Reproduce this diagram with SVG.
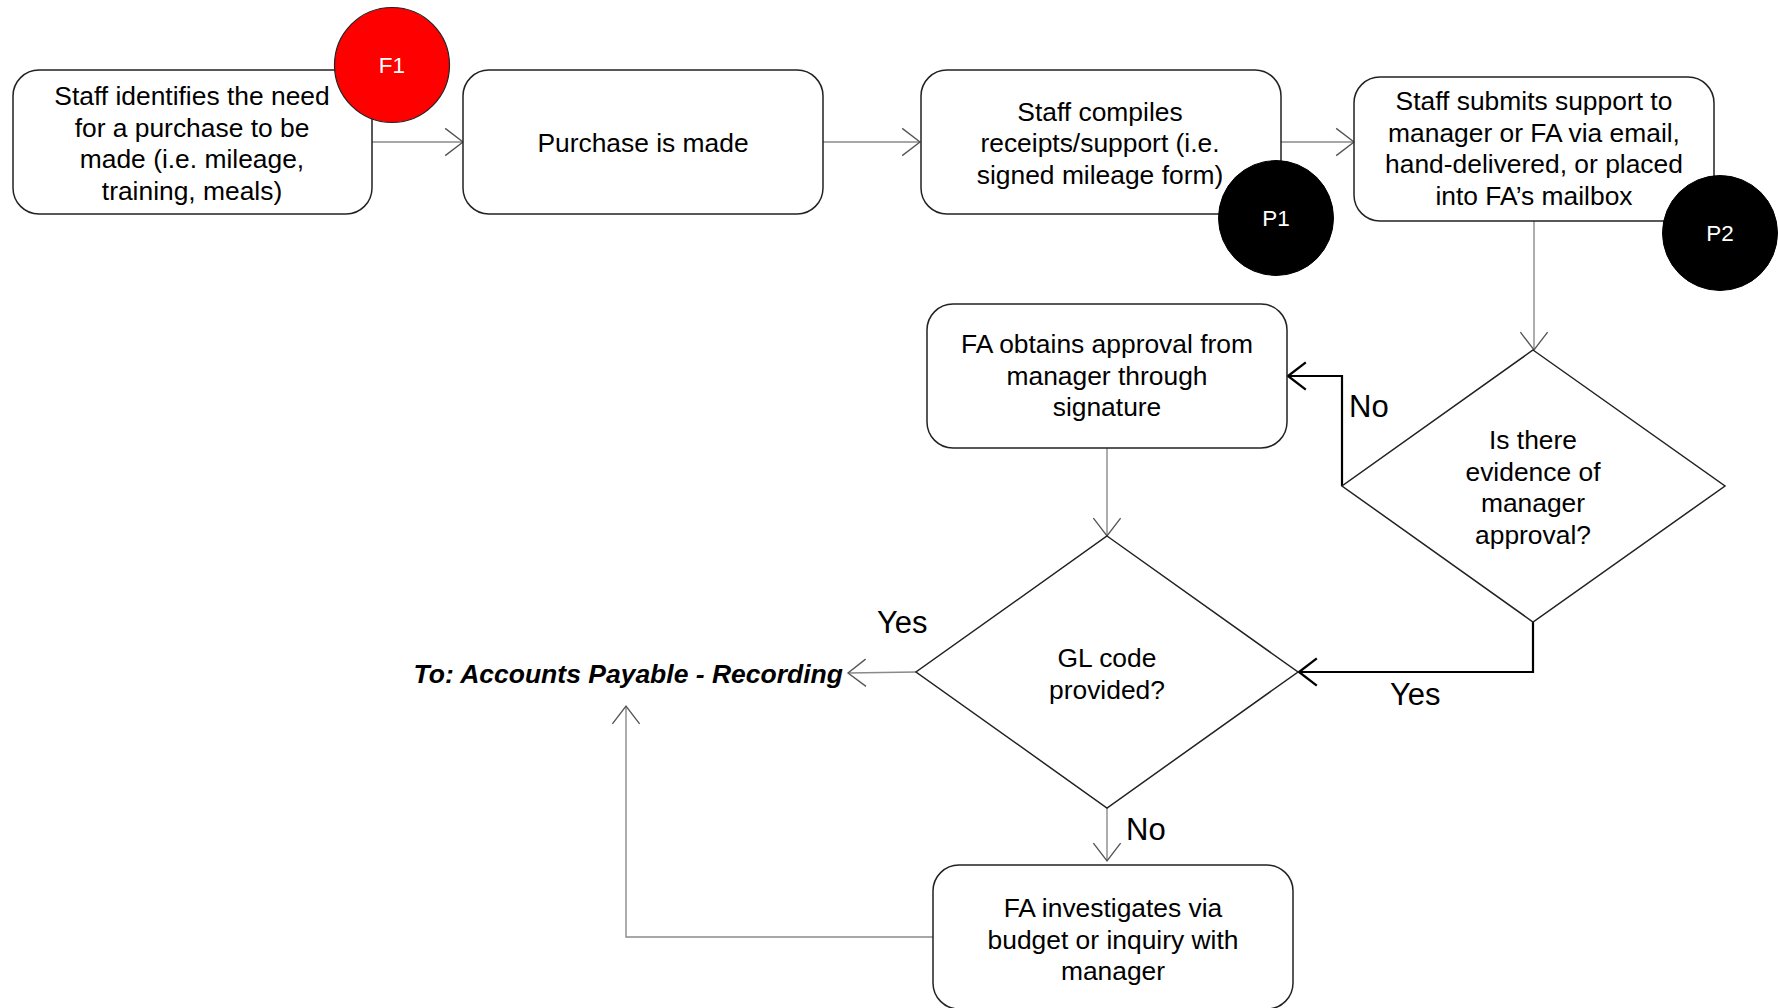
<svg xmlns="http://www.w3.org/2000/svg" width="1778" height="1008" viewBox="0 0 1778 1008">
<style>
.box{fill:#fff;stroke:#222;stroke-width:1.5}
.dia{fill:#fff;stroke:#222;stroke-width:1.5}
.t{font-family:"Liberation Sans",Arial,sans-serif;font-size:26.4px;fill:#000;text-anchor:middle}
.lbl{font-family:"Liberation Sans",Arial,sans-serif;font-size:31px;fill:#000}
.ct{font-family:"Liberation Sans",Arial,sans-serif;font-size:22.5px;fill:#fff;text-anchor:middle}
.thin{fill:none;stroke:#8a8a8a;stroke-width:1.4}
.thick{fill:none;stroke:#000;stroke-width:2.2}
</style>
<defs>
<marker id="ag" markerUnits="userSpaceOnUse" markerWidth="22" markerHeight="30" viewBox="-19 -14 21 28" refX="0" refY="0" orient="auto" overflow="visible">
<path d="M-17,-13 L0,0 L-17,13" fill="none" stroke="#555" stroke-width="1.3"/>
</marker>
<marker id="ak" markerUnits="userSpaceOnUse" markerWidth="22" markerHeight="30" viewBox="-19 -14 21 28" refX="0" refY="0" orient="auto" overflow="visible">
<path d="M-17,-13 L0,0 L-17,13" fill="none" stroke="#000" stroke-width="2.2"/>
</marker>
</defs>
<rect width="1778" height="1008" fill="#fff"/>
<g id="connectors">
<line class="thin" x1="372" y1="142" x2="463" y2="142" marker-end="url(#ag)"/>
<line class="thin" x1="823" y1="142" x2="920" y2="142" marker-end="url(#ag)"/>
<line class="thin" x1="1281" y1="142" x2="1354" y2="142" marker-end="url(#ag)"/>
<line class="thin" x1="1534" y1="221" x2="1534" y2="350" marker-end="url(#ag)"/>
<polyline class="thick" points="1342,486 1342,376 1288,376" marker-end="url(#ak)"/>
<polyline class="thick" points="1533,622 1533,672 1299,672" marker-end="url(#ak)"/>
<line class="thin" x1="1107" y1="448" x2="1107" y2="536" marker-end="url(#ag)"/>
<line class="thin" x1="916" y1="672" x2="848" y2="673" marker-end="url(#ag)"/>
<line class="thin" x1="1107" y1="808" x2="1107" y2="861" marker-end="url(#ag)"/>
<polyline class="thin" points="933,937 626,937 626,706" marker-end="url(#ag)"/>
<text class="lbl" x="1349" y="417">No</text>
<text class="lbl" x="1390" y="705">Yes</text>
<text class="lbl" x="877" y="633">Yes</text>
<text class="lbl" x="1126" y="840">No</text>
</g>
<g id="n1">
<rect class="box" x="13" y="70" width="359" height="144" rx="26"/>
<text class="t" x="192" y="105">Staff identifies the need</text>
<text class="t" x="192" y="136.5">for a purchase to be</text>
<text class="t" x="192" y="168">made (i.e. mileage,</text>
<text class="t" x="192" y="199.5">training, meals)</text>
</g>
<g id="f1">
<circle cx="392" cy="65" r="57.5" fill="#ff0000" stroke="#222" stroke-width="1.2"/>
<text class="ct" x="392" y="73">F1</text>
</g>
<g id="n2">
<rect class="box" x="463" y="70" width="360" height="144" rx="26"/>
<text class="t" x="643" y="152">Purchase is made</text>
</g>
<g id="n3">
<rect class="box" x="921" y="70" width="360" height="144" rx="26"/>
<text class="t" x="1100" y="120.5">Staff compiles</text>
<text class="t" x="1100" y="152">receipts/support (i.e.</text>
<text class="t" x="1100" y="183.5">signed mileage form)</text>
</g>
<g id="p1">
<circle cx="1276" cy="218" r="57.5" fill="#000" stroke="#000" stroke-width="1"/>
<text class="ct" x="1276" y="226">P1</text>
</g>
<g id="n4">
<rect class="box" x="1354" y="77" width="360" height="144" rx="26"/>
<text class="t" x="1534" y="110">Staff submits support to</text>
<text class="t" x="1534" y="141.5">manager or FA via email,</text>
<text class="t" x="1534" y="173">hand-delivered, or placed</text>
<text class="t" x="1534" y="204.5">into FA’s mailbox</text>
</g>
<g id="p2">
<circle cx="1720" cy="233" r="57.5" fill="#000" stroke="#000" stroke-width="1"/>
<text class="ct" x="1720" y="241">P2</text>
</g>
<g id="d1">
<polygon class="dia" points="1533,350 1725,486 1533,622 1342,486"/>
<text class="t" x="1533" y="449">Is there</text>
<text class="t" x="1533" y="480.5">evidence of</text>
<text class="t" x="1533" y="512">manager</text>
<text class="t" x="1533" y="543.5">approval?</text>
</g>
<g id="n5">
<rect class="box" x="927" y="304" width="360" height="144" rx="26"/>
<text class="t" x="1107" y="353">FA obtains approval from</text>
<text class="t" x="1107" y="384.5">manager through</text>
<text class="t" x="1107" y="416">signature</text>
</g>
<g id="d2">
<polygon class="dia" points="1107,536 1298,672 1107,808 916,672"/>
<text class="t" x="1107" y="667">GL code</text>
<text class="t" x="1107" y="698.5">provided?</text>
</g>
<g id="n6">
<rect class="box" x="933" y="865" width="360" height="144" rx="26"/>
<text class="t" x="1113" y="917">FA investigates via</text>
<text class="t" x="1113" y="948.5">budget or inquiry with</text>
<text class="t" x="1113" y="980">manager</text>
</g>
<g id="ap">
<text x="843" y="682.5" text-anchor="end" style="font-family:'Liberation Sans',Arial,sans-serif;font-size:26.5px;font-weight:bold;font-style:italic">To: Accounts Payable - Recording</text>
</g>
</svg>
